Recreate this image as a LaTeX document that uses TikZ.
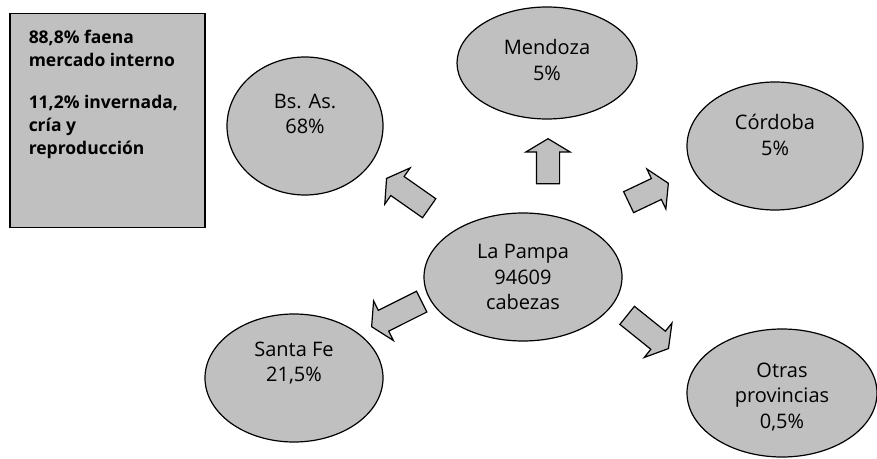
\documentclass[tikz,border=0pt]{standalone}
\usepackage{fontspec}
\setmainfont{Open Sans}
\usetikzlibrary{shapes.geometric,shapes.arrows}
\definecolor{gris}{HTML}{C0C0C0}

\begin{document}
\begin{tikzpicture}[x=1pt, y=1pt]
\tikzstyle{prov}=[ellipse, draw, line width=1.2pt, fill=gris, inner sep=0pt]
\tikzstyle{txt}=[align=center, font=\fontsize{20}{25.5}\selectfont]
\tikzstyle{flecha}=[single arrow, draw, line width=1.2pt, fill=gris, inner xsep=0pt, inner ysep=11pt, single arrow head extend=10.5pt, single arrow tip angle=118, anchor=tip]
\useasboundingbox (0,0) rectangle (877,458);

% recuadro con los destinos
\node[draw, line width=1.5pt, fill=gris, anchor=north west, inner xsep=19pt, inner ysep=16pt, font=\bfseries\fontsize{17.5}{23}\selectfont] (nota) at (9,445)
  {\parbox[t][182pt][t]{157pt}{\raggedright 88,8\% faena\\ mercado interno\\[19pt] 11,2\% invernada,\\ cría y\\ reproducción}};

% provincias
\node[prov, minimum width=198pt, minimum height=128pt, label={[txt]center:{La Pampa\\94609\\cabezas}}] (pampa) at (523,181) {};
\node[prov, minimum width=156pt, minimum height=138pt, label={[txt, yshift=12pt]center:{Bs. As.\\68\%}}] (bsas) at (305,332) {};
\node[prov, minimum width=180pt, minimum height=112pt, label={[txt, yshift=3pt]center:{Mendoza\\5\%}}] (mendoza) at (547,395) {};
\node[prov, minimum width=176pt, minimum height=128pt, label={[txt, yshift=11pt]center:{Córdoba\\5\%}}] (cordoba) at (775,312) {};
\node[prov, minimum width=178pt, minimum height=128pt, label={[txt, yshift=15pt]center:{Santa Fe\\21,5\%}}] (santafe) at (294,80) {};
\node[prov, minimum width=190pt, minimum height=128pt, label={[txt, yshift=-4pt]center:{Otras\\provincias\\0,5\%}}] (otras) at (782,65) {};

% flechas
\node[flecha, minimum height=52pt, rotate=145] (fbsas) at (386,280) {};
\node[flecha, minimum height=45pt, rotate=90] (fmendoza) at (548,320) {};
\node[flecha, minimum height=44pt, rotate=25.4] (fcordoba) at (669,275) {};
\node[flecha, minimum height=56pt, rotate=206.6] (fsantafe) at (371,131) {};
\node[flecha, minimum height=53pt, rotate=-38.8] (fotras) at (669,109) {};
\end{tikzpicture}
\end{document}
